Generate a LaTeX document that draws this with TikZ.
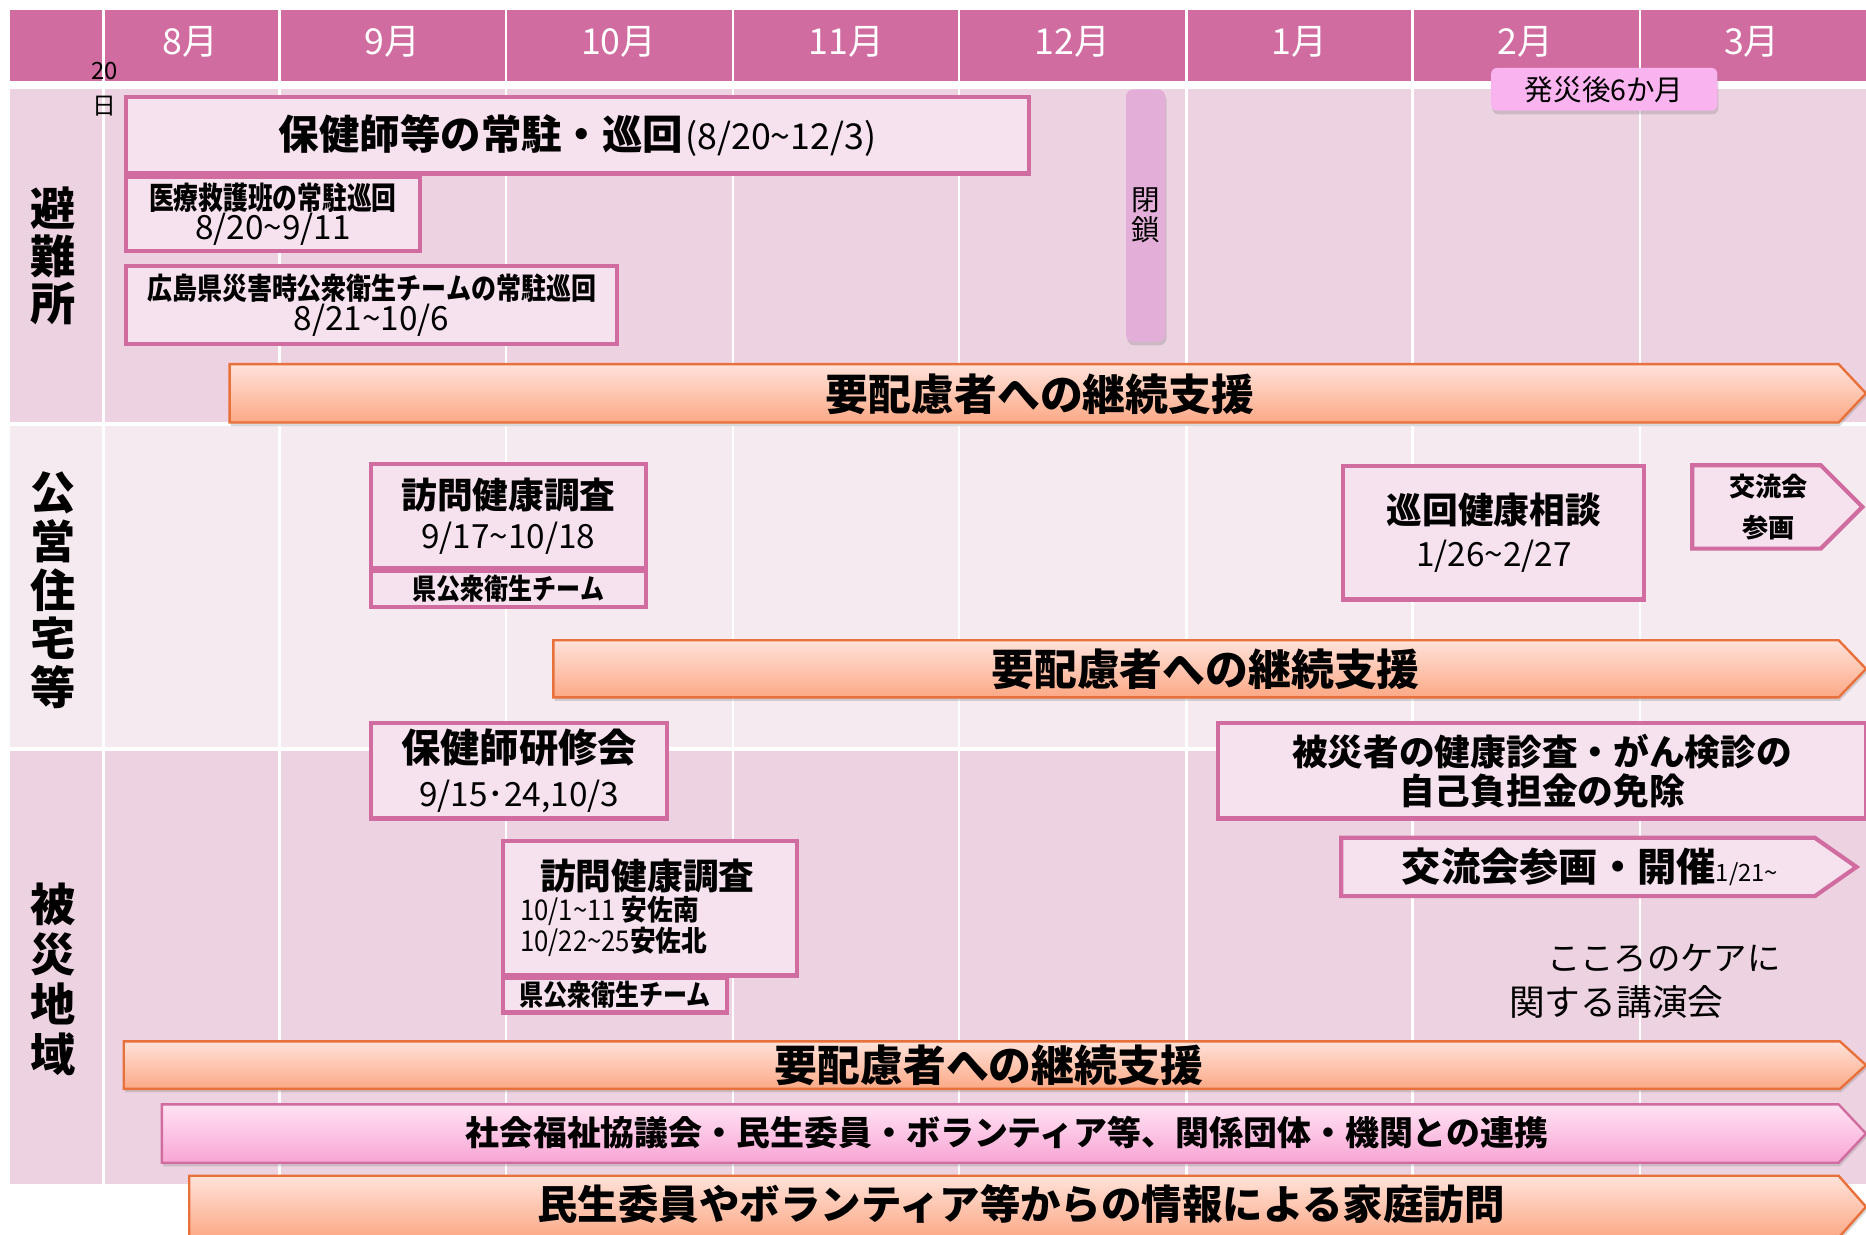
\documentclass[tikz,border=0pt]{standalone}
\usepackage{graphicx}
\usepackage{fontspec}
\setmainfont{Noto Sans CJK JP}
\usetikzlibrary{shadows}
\definecolor{hdr}{HTML}{D16CA0}
\definecolor{rowdark}{HTML}{EDD3E1}
\definecolor{rowlight}{HTML}{F5EAF0}
\definecolor{boxfill}{HTML}{F6E2EE}
\definecolor{heisafill}{HTML}{E3AED8}
\definecolor{sixfill}{HTML}{F9B3EF}
\definecolor{otop}{HTML}{FFE2DA}
\definecolor{obot}{HTML}{FCA986}
\definecolor{oline}{HTML}{E8703A}
\definecolor{ptop}{HTML}{FFE3F3}
\definecolor{pbot}{HTML}{F8A5D5}
\newcommand\fsz[2]{\fontsize{#1}{#2}\selectfont}
\newcommand\tld{\textasciitilde}
\newcommand\sqz[2]{\scalebox{#1}[1]{#2}}
\tikzset{
  month/.style={text=white, font=\fsz{30}{34}, inner sep=0pt},
  seclabel/.style={font=\bfseries\fsz{38}{40}, align=center, inner sep=0pt},
  pbox/.style={draw=hdr, line width=3.5pt, fill=boxfill, inner sep=0pt, anchor=north west, align=center},
  pshape/.style={draw=hdr, line width=3.5pt, fill=boxfill},
  softshadow/.style={drop shadow={shadow xshift=1pt, shadow yshift=-3pt, opacity=0.3}},
  orow/.style={draw=oline, line width=2pt, top color=otop, bottom color=obot, softshadow},
  prow/.style={draw=hdr, line width=2pt, top color=ptop, bottom color=pbot, softshadow},
  rowtext/.style={font=\bfseries\fsz{36}{38}, inner sep=0pt},
  plain/.style={inner sep=0pt, align=center},
}
\begin{document}
\begin{tikzpicture}[x=1pt,y=-1pt]
\useasboundingbox (0,0) rectangle (1568,1037);
% backgrounds
\fill[hdr] (8,8) rectangle (1568,68);
\fill[rowdark] (8,75) rectangle (1568,355);
\fill[rowlight] (8,358) rectangle (1568,628);
\fill[rowdark] (8,631) rectangle (1568,995);
\foreach \x in {87,235,425,616,806,997,1187,1378} \draw[white, line width=2pt] (\x,8) -- (\x,995);
% months
\node[month] (m8) at (160,35) {8月};
\node[month] (m9) at (330,35) {9月};
\node[month] (m10) at (520,35) {10月};
\node[month] (m11) at (711,35) {11月};
\node[month] (m12) at (901,35) {12月};
\node[month] (m1) at (1092,35) {1月};
\node[month] (m2) at (1282,35) {2月};
\node[month] (m3) at (1472,35) {3月};
% section labels
\node[seclabel] (s1) at (45,215) {避\\難\\所};
\node[seclabel, font=\bfseries\fsz{38}{41}] (s2) at (45,496) {公\\営\\住\\宅\\等};
\node[seclabel, font=\bfseries\fsz{38}{42}] (s3) at (45,823) {被\\災\\地\\域};
\node[plain, font=\fsz{20}{30}] (d20) at (88,75) {20\\日};
% row 1
\node[pbox, minimum width=759pt, minimum height=64pt] (b1) at (104,80)
  {{\bfseries\fsz{34}{40}保健師等の常駐・巡回}\,{\fsz{30}{30}(8/20\tld 12/3)}};
\node[pbox, minimum width=247pt, minimum height=62pt, font=\fsz{26}{25}] (b2) at (104,147)
  {{\bfseries\sqz{0.8}{医療救護班の常駐巡回}}\\{\fsz{28}{25}8/20\tld 9/11}};
\node[pbox, minimum width=413pt, minimum height=65pt, font=\fsz{25}{23}] (b3) at (104,222)
  {{\bfseries\sqz{0.84}{広島県災害時公衆衛生チームの常駐巡回}}\\{\fsz{28}{23}8/21\tld 10/6}};
\node[fill=heisafill, rounded corners=6pt, minimum width=33pt, minimum height=212pt, anchor=north west,
  inner sep=0pt, softshadow, font=\fsz{24}{25}, align=center] (close) at (946,75) {閉\\鎖};
\node[fill=sixfill, rounded corners=5pt, minimum width=190pt, minimum height=36pt, inner sep=0pt,
  softshadow, font=\fsz{24}{26}] (six) at (1348,75) {発災後6か月};
\path[orow] (193,306) -- (1545,306) -- (1568,330.5) -- (1545,355) -- (193,355) -- cycle;
\node[rowtext] (a1) at (874,331) {要配慮者への継続支援};
% row 2
\node[pbox, minimum width=231pt, minimum height=88pt, font=\fsz{28}{33}] (b7) at (310,388)
  {{\bfseries\fsz{30}{33}訪問健康調査}\\9/17\tld 10/18};
\node[pbox, minimum width=231pt, minimum height=30pt] (b7s) at (310,478)
  {\bfseries\fsz{24}{24}\sqz{0.84}{県公衆衛生チーム}};
\node[pbox, minimum width=253pt, minimum height=112pt, font=\fsz{28}{36}] (b8) at (1127,390)
  {{\bfseries\fsz{30}{36}巡回健康相談}\\1/26\tld 2/27};
\path[pshape] (1422,391) -- (1530,391) -- (1565,426) -- (1530,461) -- (1422,461) -- cycle;
\node[plain, font=\bfseries\fsz{22}{35}] (kr1) at (1486,426) {交流会\\参画};
\path[orow] (465,538) -- (1545,538) -- (1568,562) -- (1545,586) -- (465,586) -- cycle;
\node[rowtext] (a2) at (1013,562) {要配慮者への継続支援};
% row 3
\node[pbox, minimum width=249pt, minimum height=80pt, font=\fsz{28}{37}] (b11) at (310,606)
  {{\bfseries\fsz{33}{37}保健師研修会}\\9/15･24,10/3};
\node[pbox, minimum width=544pt, minimum height=80pt, font=\bfseries\fsz{30}{33}] (b12) at (1022,606)
  {被災者の健康診査・がん検診の\\自己負担金の免除};
\node[pbox, minimum width=247pt, minimum height=113pt] (b13) at (421,705) {};
\node[plain, font=\bfseries\fsz{30}{34}] (b13t) at (544,736) {訪問健康調査};
\node[plain, anchor=north west, align=left, font=\fsz{24}{24}] (b13d) at (437,753)
  {\sqz{0.9}{10/1\tld 11 {\bfseries 安佐南}}\\\sqz{0.9}{10/22\tld 25{\bfseries 安佐北}}};
\node[pbox, minimum width=188pt, minimum height=29pt] (b13s) at (421,820)
  {\bfseries\fsz{24}{24}\sqz{0.84}{県公衆衛生チーム}};
\path[pshape] (1127,704) -- (1525,704) -- (1560,728.5) -- (1525,753) -- (1127,753) -- cycle;
\node[plain] (kr2) at (1336,728) {{\bfseries\fsz{33}{36}交流会参画・開催}{\fsz{20}{24}1/21\tld}};
\node[plain, anchor=west, font=\fsz{28}{32}] (kk1) at (1300,805) {こころのケアに};
\node[plain, anchor=west, font=\fsz{30}{32}] (kk2) at (1268,842) {関する講演会};
\path[orow] (104,875) -- (1546,875) -- (1568,895) -- (1546,915) -- (104,915) -- cycle;
\node[rowtext] (a3) at (831,895) {要配慮者への継続支援};
\path[prow] (136,928) -- (1545,928) -- (1568,952.5) -- (1545,977) -- (136,977) -- cycle;
\node[rowtext, font=\bfseries\fsz{28.5}{32}] (a4) at (846,952) {社会福祉協議会・民生委員・ボランティア等、関係団体・機関との連携};
\path[orow] (159,988) -- (1545,988) -- (1568,1014) -- (1545,1040) -- (159,1040) -- cycle;
\node[rowtext, font=\bfseries\fsz{34}{38}] (a5) at (858,1012) {民生委員やボランティア等からの情報による家庭訪問};
\end{tikzpicture}
\end{document}
